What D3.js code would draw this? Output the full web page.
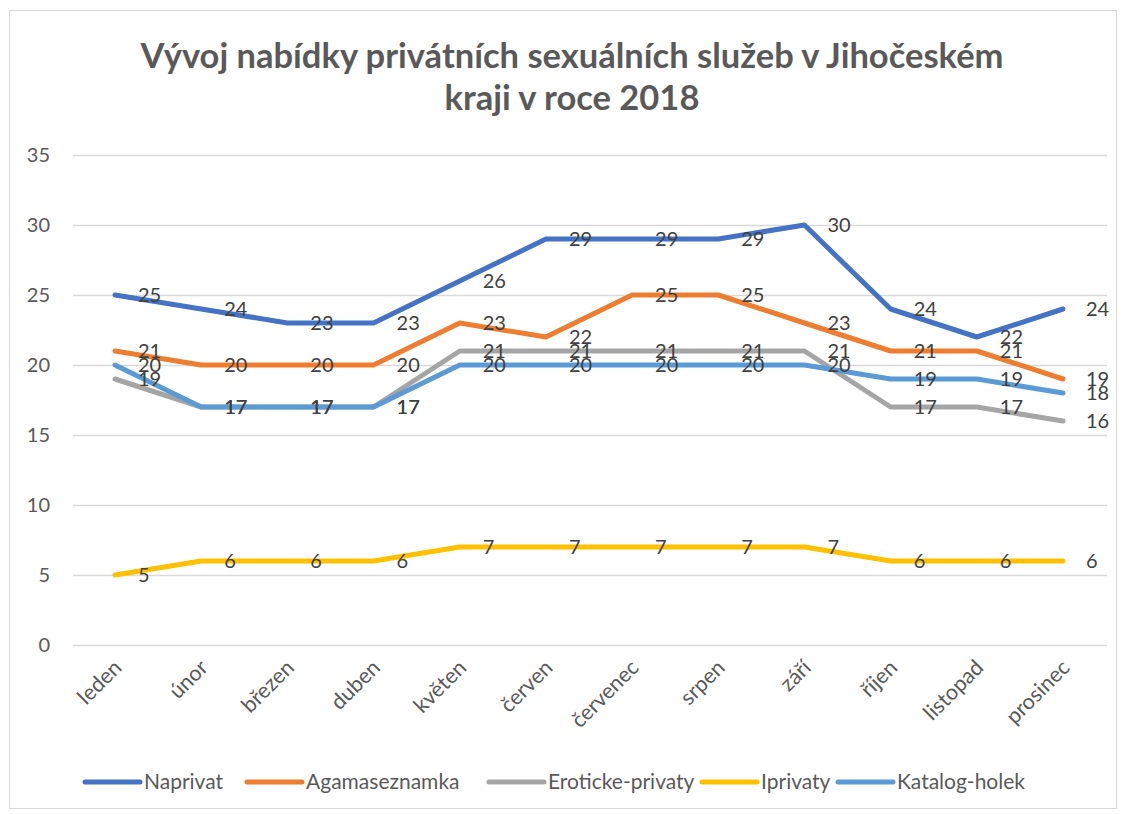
<!DOCTYPE html>
<html>
<head>
<meta charset="utf-8">
<script src="https://cdn.jsdelivr.net/npm/d3@7"></script>
<style>
  body { margin: 0; background: #fff; }
  svg { display: block; font-family: Lato, "Open Sans", sans-serif; }
</style>
</head>
<body>
<div class="chart"></div>
<script>
// months (x categories)
const months = ["leden", "únor", "březen", "duben", "květen", "červen",
  "červenec", "srpen", "září", "říjen", "listopad", "prosinec"];

const naprivat      = [25, 24, 23, 23, 26, 29, 29, 29, 30, 24, 22, 24];
const agamaseznamka = [21, 20, 20, 20, 23, 22, 25, 25, 23, 21, 21, 19];
const erotickePrivaty = [19, 17, 17, 17, 21, 21, 21, 21, 21, 17, 17, 16];
const iprivaty      = [5, 6, 6, 6, 7, 7, 7, 7, 7, 6, 6, 6];
const katalogHolek  = [20, 17, 17, 17, 20, 20, 20, 20, 20, 19, 19, 18];

const yTicks = [0, 5, 10, 15, 20, 25, 30, 35];

const series = [
  { name: "Naprivat", values: naprivat, color: "#4472C4" },
  { name: "Agamaseznamka", values: agamaseznamka, color: "#ED7D31" },
  { name: "Eroticke-privaty", values: erotickePrivaty, color: "#A5A5A5" },
  { name: "Iprivaty", values: iprivaty, color: "#FFC000" },
  { name: "Katalog-holek", values: katalogHolek, color: "#5B9BD5" }
];

const W = 1124, H = 814;
const svg = d3.select(".chart").append("svg")
  .attr("width", W).attr("height", H);

// chart frame
svg.append("rect")
  .attr("x", 9.5).attr("y", 10.5)
  .attr("width", 1107).attr("height", 798)
  .attr("fill", "#fff").attr("stroke", "#d9d9d9");

// title
const title = svg.append("text")
  .attr("text-anchor", "middle")
  .attr("fill", "#595959")
  .attr("font-weight", "bold")
  .attr("font-size", 34.5);
title.append("tspan").attr("x", 572).attr("y", 68)
  .text("Vývoj nabídky privátních sexuálních služeb v Jihočeském");
title.append("tspan").attr("x", 572).attr("y", 110)
  .text("kraji v roce 2018");

const x = d3.scalePoint().domain(months).range([115, 1063]);
const y = d3.scaleLinear().domain([0, 35]).range([645, 155]);

// gridlines
svg.append("g")
  .selectAll("line")
  .data(yTicks)
  .join("line")
    .attr("x1", 73).attr("x2", 1107)
    .attr("y1", d => y(d) + 0.5).attr("y2", d => y(d) + 0.5)
    .attr("stroke", "#d9d9d9").attr("stroke-width", 1.5);

// y axis labels
svg.append("g")
  .selectAll("text")
  .data(yTicks)
  .join("text")
    .attr("x", 50).attr("y", d => y(d))
    .attr("dy", "0.35em")
    .attr("text-anchor", "end")
    .attr("font-size", 20)
    .attr("fill", "#595959")
    .text(d => d);

// x axis labels, rotated
svg.append("g")
  .selectAll("text")
  .data(months)
  .join("text")
    .attr("transform", d => `translate(${x(d) + 8},${669}) rotate(-45)`)
    .attr("text-anchor", "end")
    .attr("font-size", 21.5)
    .attr("fill", "#595959")
    .text(d => d);

const line = d3.line()
  .x((d, i) => x(months[i]))
  .y(d => y(d));

svg.append("g")
  .selectAll("path")
  .data(series)
  .join("path")
    .attr("d", d => line(d.values))
    .attr("fill", "none")
    .attr("stroke", d => d.color)
    .attr("stroke-width", 5)
    .attr("stroke-linejoin", "round")
    .attr("stroke-linecap", "round");

// data labels to the right of each point
series.forEach(s => {
  svg.append("g")
    .selectAll("text")
    .data(s.values)
    .join("text")
      .attr("x", (d, i) => x(months[i]) + 23)
      .attr("y", d => y(d))
      .attr("dy", "0.35em")
      .attr("font-size", 20)
      .attr("fill", "#404040")
      .text(d => d);
});

// legend
const legendX = [85, 247, 489, 702, 838];
const legend = svg.append("g")
  .selectAll("g")
  .data(series)
  .join("g")
    .attr("transform", (d, i) => `translate(${legendX[i]},782)`);
legend.append("line")
  .attr("x1", 0).attr("x2", 55)
  .attr("stroke", d => d.color)
  .attr("stroke-width", 5)
  .attr("stroke-linecap", "round");
legend.append("text")
  .attr("x", 59).attr("dy", "0.35em")
  .attr("font-size", 21)
  .attr("fill", "#595959")
  .text(d => d.name);
</script>
</body>
</html>
